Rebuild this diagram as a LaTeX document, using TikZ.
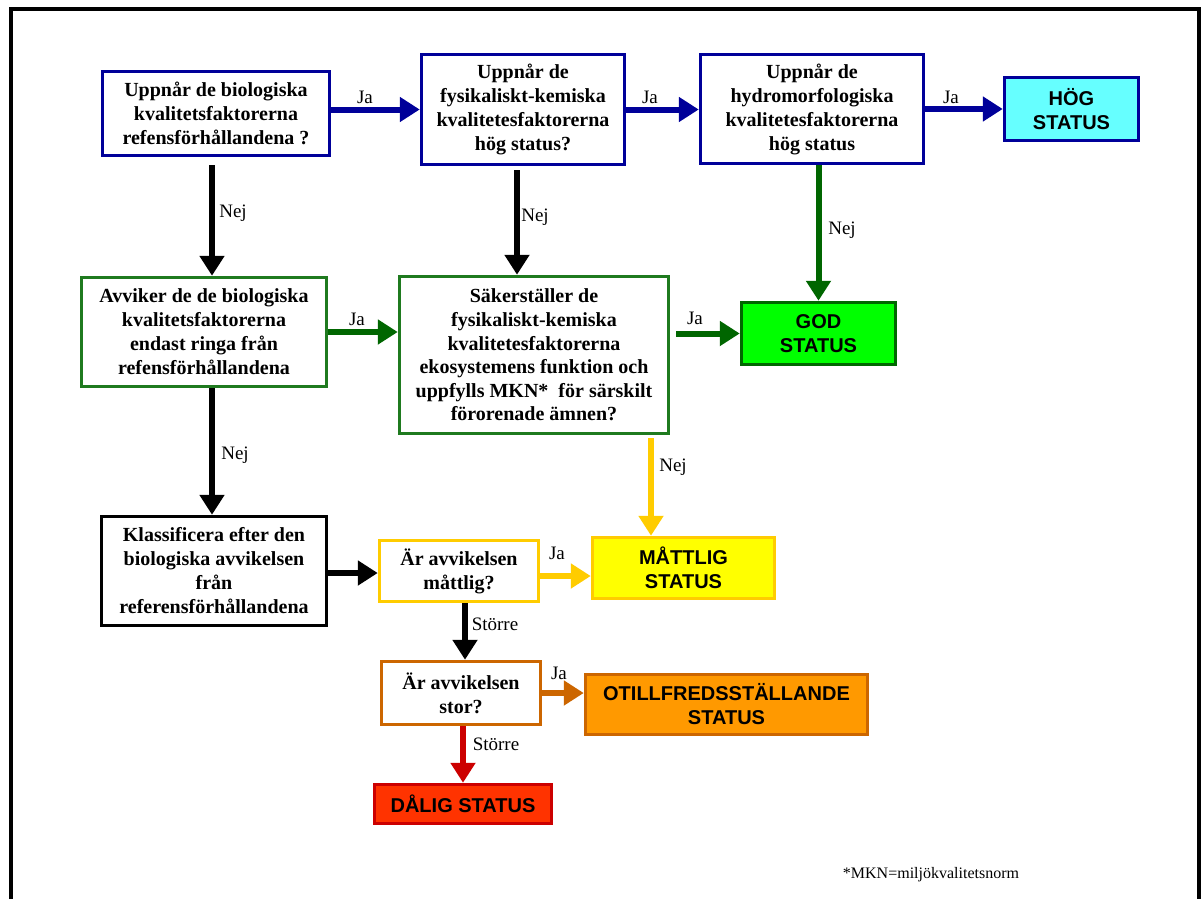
\documentclass[tikz,border=0pt]{standalone}
\usepackage{fontspec}
\setmainfont{Liberation Serif}
\newfontfamily\sansf{Liberation Sans}
\usetikzlibrary{arrows.meta,calc}
\definecolor{cblue}{HTML}{000099}
\definecolor{cgreenb}{HTML}{1F7A1F}
\definecolor{cgreen}{HTML}{006600}
\definecolor{cgold}{HTML}{FFCC00}
\definecolor{corange}{HTML}{CC6600}
\definecolor{cred}{HTML}{CC0000}
\definecolor{fcyan}{HTML}{66FFFF}
\definecolor{fgreen}{HTML}{00FF00}
\definecolor{fyellow}{HTML}{FFFF00}
\definecolor{forange}{HTML}{FF9900}
\definecolor{fred}{HTML}{FF3300}
\tikzset{
  q/.style={draw, line width=3.5pt, fill=white, align=center, inner sep=0pt,
    font=\fontsize{20}{24}\selectfont\bfseries},
  st/.style={draw, line width=3.5pt, align=center, inner sep=0pt,
    font=\fontsize{20}{24}\selectfont\sansf\bfseries},
  lab/.style={font=\fontsize{19}{22}\selectfont, inner sep=0pt},
  arr/.style={line width=6pt, -{Triangle[length=20pt,width=24pt]}},
}
\begin{document}
\begin{tikzpicture}[x=1pt,y=-1pt]
\useasboundingbox (0,0) rectangle (1201,899);
\fill[white] (0,0) rectangle (1201,899);
% frame
\draw[line width=4pt] (11,899) -- (11,9) -- (1198.5,9) -- (1198.5,899);

% nodes
\node[q, draw=cblue, minimum width=227, minimum height=84] (b1) at (216,113.5)
  {Uppnår de biologiska\\kvalitetsfaktorerna\\refensförhållandena ?};
\node[q, draw=cblue, minimum width=203, minimum height=110] (b2) at (523,109.5)
  {Uppnår de\\fysikaliskt-kemiska\\kvalitetesfaktorerna\\hög status?};
\node[q, draw=cblue, minimum width=223, minimum height=109] (b3) at (812,109)
  {Uppnår de\\hydromorfologiska\\kvalitetesfaktorerna\\hög status};
\node[st, draw=cblue, fill=fcyan, minimum width=134, minimum height=63] (hog) at (1071.5,109)
  {HÖG\\STATUS};
\node[q, draw=cgreenb, minimum width=245, minimum height=109] (b4) at (204,332)
  {Avviker de de biologiska\\kvalitetsfaktorerna\\endast ringa från\\refensförhållandena};
\node[q, draw=cgreenb, minimum width=269, minimum height=157,
  font=\fontsize{20}{23.6}\selectfont\bfseries] (b5) at (534,355)
  {Säkerställer de\\fysikaliskt-kemiska\\kvalitetesfaktorerna\\ekosystemens funktion och\\uppfylls MKN*~~för särskilt\\förorenade ämnen?};
\node[st, draw=cgreen, fill=fgreen, minimum width=154, minimum height=62] (god) at (818.5,333.5)
  {GOD\\STATUS};
\node[q, draw=black, minimum width=225, minimum height=109] (b6) at (214,571)
  {Klassificera efter den\\biologiska avvikelsen\\från\\referensförhållandena};
\node[q, draw=cgold, minimum width=159, minimum height=61] (b7) at (459,571)
  {Är avvikelsen\\måttlig?};
\node[st, draw=cgold, fill=fyellow, minimum width=182, minimum height=61] (mod) at (683.5,568)
  {MÅTTLIG\\STATUS};
\node[q, draw=corange, minimum width=159, minimum height=63] (b8) at (461,693)
  {Är avvikelsen\\stor?};
\node[st, draw=corange, fill=forange, minimum width=282, minimum height=60] (otf) at (726.5,704.5)
  {OTILLFREDSSTÄLLANDE\\STATUS};
\node[st, draw=cred, fill=fred, minimum width=177, minimum height=39] (dal) at (463,804)
  {DÅLIG STATUS};
\node[font=\fontsize{16}{18}\selectfont, inner sep=0pt] (note) at (931,875) {*MKN=miljökvalitetsnorm};

% connectors
\draw[arr, cblue] (b1.east |- b2.west) -- (b2.west);
\draw[arr, cblue] (b2.east) -- (b3.west |- b2.east);
\draw[arr, cblue] (b3.east) -- (hog.west);
\draw[arr, black] ($(b1.south)+(-4,8)$) -- ($(b4.north)+(8,0)$);
\draw[arr, black] ($(b2.south)+(-6,4)$) -- ($(b5.north)+(-17,0)$);
\draw[arr, cgreen] (god.north |- b3.south) -- (god.north);
\draw[arr, cgreen] (b4.east) -- (b5.west |- b4.east);
\draw[arr, cgreen] ($(b5.east |- god.west)+(6,0)$) -- (god.west);
\draw[arr, black] ($(b4.south)+(8,0)$) -- ($(b6.north)+(-2,0)$);
\draw[arr, cgold] ($(b5.south)+(117,3)$) -- ($(mod.north)+(-32.5,0)$);
\draw[arr, black] ($(b6.east)+(0,2)$) -- ($(b7.west)+(0,2)$);
\draw[arr, cgold] ($(b7.east)+(0,5)$) -- ($(mod.west)+(0,8)$);
\draw[arr, black] ($(b7.south)+(6,0)$) -- ($(b8.north)+(4,0)$);
\draw[arr, corange] (b8.east) -- (otf.west |- b8.east);
\draw[arr, cred] (dal.north |- b8.south) -- (dal.north);

% labels
\node[lab] (l1) at (365,97) {Ja};
\node[lab] (l2) at (650,97) {Ja};
\node[lab] (l3) at (951,97) {Ja};
\node[lab] (l4) at (233,213) {Nej};
\node[lab] (l5) at (535,217) {Nej};
\node[lab] (l6) at (842,230) {Nej};
\node[lab] (l7) at (357,319) {Ja};
\node[lab] (l8) at (695,318) {Ja};
\node[lab] (l9) at (235,455) {Nej};
\node[lab] (l10) at (673,467) {Nej};
\node[lab] (l11) at (557,553) {Ja};
\node[lab] (l12) at (495,624) {Större};
\node[lab] (l13) at (559,673) {Ja};
\node[lab] (l14) at (496,744) {Större};
\end{tikzpicture}
\end{document}
